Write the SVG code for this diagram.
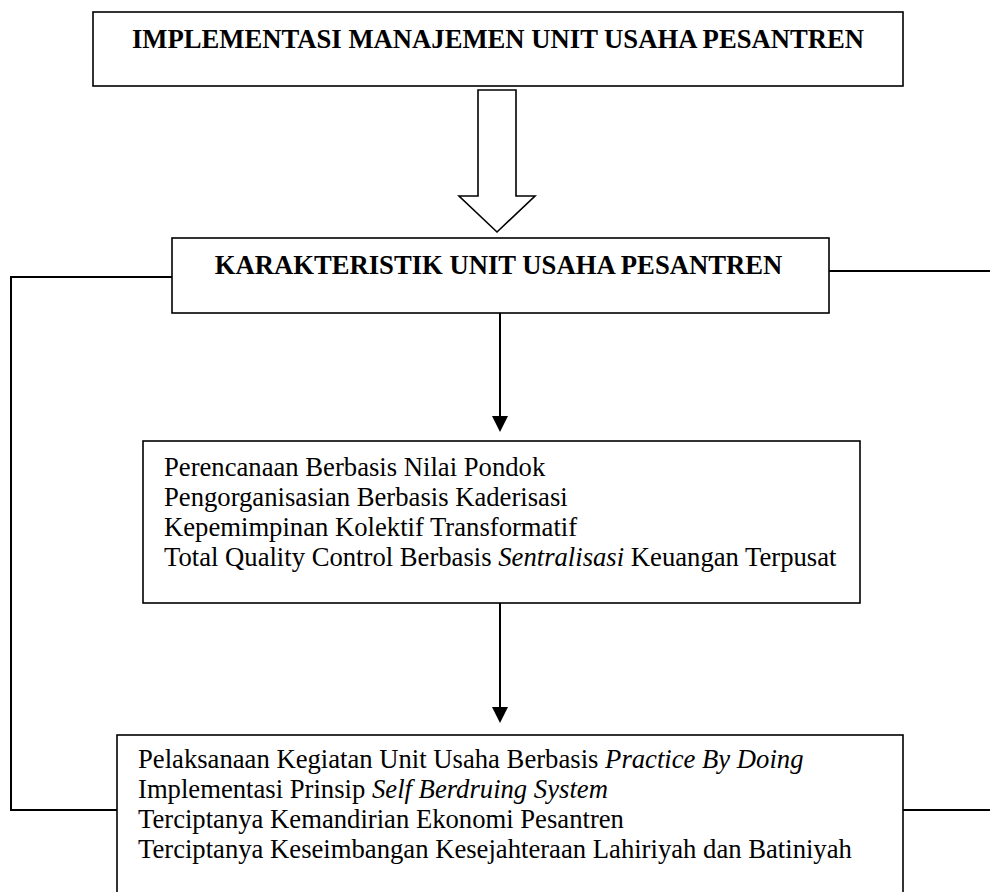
<svg xmlns="http://www.w3.org/2000/svg" width="990" height="892" viewBox="0 0 990 892">
<style>
.box{fill:#fff;stroke:#000;stroke-width:1.6}
.ttl{font-family:"Liberation Serif","Times New Roman",serif;font-weight:bold;font-size:26.67px;fill:#000}
.txt{font-family:"Liberation Serif","Times New Roman",serif;font-size:26.67px;fill:#000}
.it{font-style:italic}
.con{fill:none;stroke:#000;stroke-width:2}
</style>
<defs>
<marker id="ah" markerWidth="16" markerHeight="16" refX="8" refY="16" orient="auto-start-reverse" markerUnits="userSpaceOnUse" viewBox="0 0 16 16">
<path d="M0,0 L16,0 L8,16 Z" fill="#000" transform="rotate(0)"/>
</marker>
</defs>
<rect width="990" height="892" fill="#fff"/>
<g id="connectors">
<polygon points="478,90 516,90 516,196 535,196 497,232 459,196 478,196" fill="#fff" stroke="#000" stroke-width="1.6"/>
<line x1="500" y1="313" x2="500" y2="416" class="con"/>
<path d="M492,416 L508,416 L500,432 Z" fill="#000"/>
<line x1="500" y1="603" x2="500" y2="707" class="con"/>
<path d="M492,707 L508,707 L500,723 Z" fill="#000"/>
<polyline points="172,277 11,277 11,810 117,810" class="con"/>
<line x1="829" y1="271" x2="990" y2="271" class="con"/>
<line x1="903" y1="810" x2="990" y2="810" class="con"/>
</g>
<g id="node-implementasi">
<rect x="93" y="12" width="810" height="74" class="box"/>
<text x="498" y="48" text-anchor="middle" class="ttl">IMPLEMENTASI MANAJEMEN UNIT USAHA PESANTREN</text>
</g>
<g id="node-karakteristik">
<rect x="172" y="238" width="657" height="75" class="box"/>
<text x="498.5" y="274" text-anchor="middle" class="ttl">KARAKTERISTIK UNIT USAHA PESANTREN</text>
</g>
<g id="node-manajemen">
<rect x="143" y="441" width="717" height="162" class="box"/>
<text class="txt">
<tspan x="164" y="476">Perencanaan Berbasis Nilai Pondok</tspan>
<tspan x="164" y="506">Pengorganisasian Berbasis Kaderisasi</tspan>
<tspan x="164" y="536">Kepemimpinan Kolektif Transformatif</tspan>
<tspan x="164" y="566">Total Quality Control Berbasis <tspan class="it">Sentralisasi</tspan> Keuangan Terpusat</tspan>
</text>
</g>
<g id="node-hasil">
<rect x="117" y="735" width="786" height="170" class="box"/>
<text class="txt">
<tspan x="138" y="768">Pelaksanaan Kegiatan Unit Usaha Berbasis <tspan class="it">Practice By Doing</tspan></tspan>
<tspan x="138" y="798">Implementasi Prinsip <tspan class="it">Self Berdruing System</tspan></tspan>
<tspan x="138" y="828">Terciptanya Kemandirian Ekonomi Pesantren</tspan>
<tspan x="138" y="858">Terciptanya Keseimbangan Kesejahteraan Lahiriyah dan Batiniyah</tspan>
</text>
</g>
</svg>
